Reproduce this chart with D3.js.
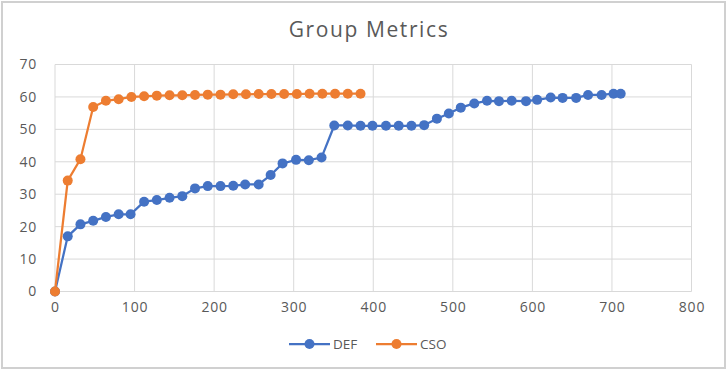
<!DOCTYPE html>
<html>
<head>
<meta charset="utf-8">
<script src="https://cdn.jsdelivr.net/npm/d3@7"></script>
<style>
  body { margin: 0; background: #fff; }
  svg { display: block; font-family: "Open Sans", "Noto Sans", sans-serif; }
</style>
</head>
<body>
<div id="chart"></div>
<script>
const seriesNames = ["DEF", "CSO"]
const colors = ["#4472C4", "#ED7D31"]

const defX = [0, 16, 32, 48, 64, 80, 95, 112, 128, 144, 160, 176, 192, 208, 224, 239,
  256, 271, 286, 303, 319, 335, 351, 368, 384, 399, 416, 432, 448, 464, 480, 495,
  510, 527, 543, 558, 574, 592, 606, 623, 638, 655, 670, 687, 702, 711]
const defY = [0, 17.0, 20.7, 21.8, 23.0, 23.8, 23.8, 27.7, 28.2, 28.9, 29.4, 31.8, 32.5, 32.5, 32.6, 33.0,
  33.0, 35.9, 39.5, 40.6, 40.5, 41.3, 51.2, 51.2, 51.1, 51.1, 51.1, 51.1, 51.1, 51.3, 53.3, 54.9,
  56.7, 58.0, 58.8, 58.7, 58.8, 58.7, 59.1, 59.8, 59.7, 59.7, 60.6, 60.6, 61.0, 61.0]

const csoX = [0, 16, 32, 48, 64, 80, 96, 112, 128, 144, 160, 176, 192, 208, 224, 240,
  256, 272, 288, 304, 320, 336, 352, 368, 384]
const csoY = [0, 34.2, 40.8, 56.9, 58.8, 59.3, 60.0, 60.2, 60.4, 60.5, 60.5, 60.6, 60.7, 60.7, 60.8, 60.8,
  60.9, 60.9, 60.9, 60.9, 61.0, 61.0, 61.0, 61.0, 61.0]

const xTicks = [0, 100, 200, 300, 400, 500, 600, 700, 800]
const yTicks = [0, 10, 20, 30, 40, 50, 60, 70]

const W = 727, H = 371
const plotLeft = 55, plotRight = 691.5, plotTop = 64.5, plotBottom = 291.5

const svg = d3.select('#chart').append('svg')
  .attr('width', W)
  .attr('height', H)

// outer frame
svg.append('rect')
  .attr('x', 2).attr('y', 2)
  .attr('width', W - 4).attr('height', H - 5)
  .attr('fill', '#fff')
  .attr('stroke', '#d0d0d0')
  .attr('stroke-width', 2)

svg.append('text')
  .attr('x', 369).attr('y', 37)
  .attr('text-anchor', 'middle')
  .attr('font-size', 21)
  .attr('letter-spacing', 1.6)
  .attr('fill', '#595959')
  .text('Group Metrics')

const x = d3.scaleLinear().domain([0, 800]).range([plotLeft, plotRight])
const y = d3.scaleLinear().domain([0, 70]).range([plotBottom, plotTop])

// grid
svg.append('g').selectAll('line')
  .data(yTicks).enter().append('line')
  .attr('x1', plotLeft).attr('x2', plotRight)
  .attr('y1', d => y(d)).attr('y2', d => y(d))
  .attr('stroke', '#d9d9d9').attr('stroke-width', 1)
svg.append('g').selectAll('line')
  .data(xTicks).enter().append('line')
  .attr('y1', plotTop).attr('y2', plotBottom)
  .attr('x1', d => x(d)).attr('x2', d => x(d))
  .attr('stroke', '#d9d9d9').attr('stroke-width', 1)

const yAxis = svg.append('g')
  .attr('transform', `translate(${plotLeft},0)`)
  .call(d3.axisLeft(y).tickValues(yTicks).tickSize(0).tickPadding(18))
yAxis.select('.domain').remove()
yAxis.selectAll('text').attr('font-size', 14).attr('letter-spacing', 0.8).attr('fill', '#595959')
  .attr('font-family', '"Open Sans", sans-serif')

const xAxis = svg.append('g')
  .attr('transform', `translate(0,${plotBottom})`)
  .call(d3.axisBottom(x).tickValues(xTicks).tickSize(0).tickPadding(11))
xAxis.select('.domain').remove()
xAxis.selectAll('text').attr('font-size', 14).attr('letter-spacing', 0.8).attr('fill', '#595959')
  .attr('font-family', '"Open Sans", sans-serif')

const series = [
  { name: seriesNames[0], color: colors[0], pts: defX.map((v, i) => [v, defY[i]]) },
  { name: seriesNames[1], color: colors[1], pts: csoX.map((v, i) => [v, csoY[i]]) }
]

const line = d3.line().x(d => x(d[0])).y(d => y(d[1]))

series.forEach(s => {
  const g = svg.append('g')
  g.append('path')
    .attr('d', line(s.pts))
    .attr('fill', 'none')
    .attr('stroke', s.color)
    .attr('stroke-width', 2.25)
  g.selectAll('circle').data(s.pts).enter().append('circle')
    .attr('cx', d => x(d[0])).attr('cy', d => y(d[1]))
    .attr('r', 5)
    .attr('fill', s.color)
})

// legend
const legendPos = [289, 376]
series.forEach((s, i) => {
  const lx = legendPos[i]
  const g = svg.append('g').attr('transform', `translate(${lx},344)`)
  g.append('line').attr('x1', 0).attr('x2', 41).attr('y1', 0).attr('y2', 0)
    .attr('stroke', s.color).attr('stroke-width', 2.25)
  g.append('circle').attr('cx', 20.5).attr('cy', 0).attr('r', 5).attr('fill', s.color)
  g.append('text').attr('x', 44).attr('y', 0).attr('dy', '0.35em')
    .attr('font-size', 13.5).attr('fill', '#595959')
    .text(s.name)
})
</script>
</body>
</html>
